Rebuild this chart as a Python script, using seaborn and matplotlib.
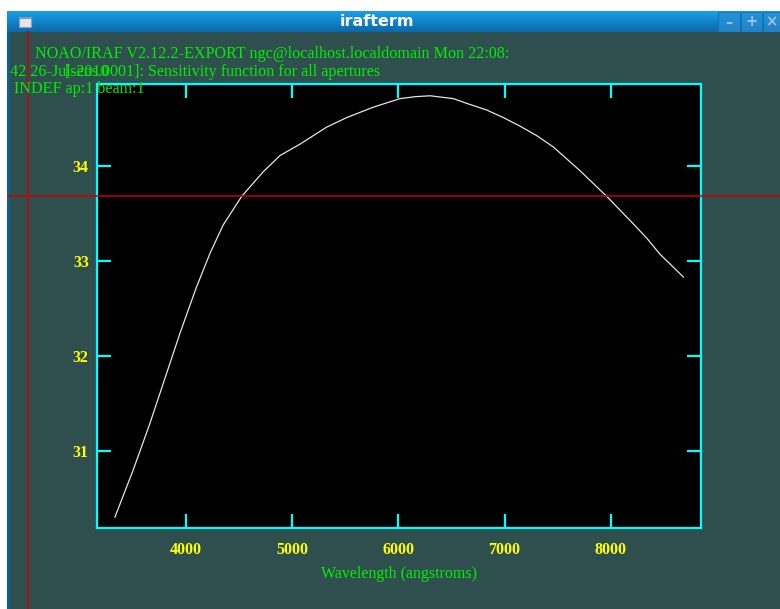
import numpy as np
import pandas as pd
import matplotlib
matplotlib.use("Agg")
import matplotlib.pyplot as plt
import seaborn as sns
from matplotlib.patches import Rectangle
from matplotlib.colors import LinearSegmentedColormap

# Sensitivity function (mag) against wavelength (angstroms)
wavelength = [3331, 3504, 3661, 3786, 3944, 4094, 4226, 4351, 4524, 4728,
              4885, 5073, 5325, 5513, 5764, 6015, 6156, 6298, 6517, 6643,
              6831, 6988, 7145, 7302, 7459, 7710, 7961, 8212, 8338, 8463, 8683]
sensitivity = [30.30, 30.80, 31.29, 31.71, 32.24, 32.71, 33.08, 33.38, 33.68, 33.94,
               34.11, 34.23, 34.41, 34.51, 34.62, 34.71, 34.73, 34.74, 34.71, 34.66,
               34.59, 34.51, 34.42, 34.32, 34.20, 33.95, 33.68, 33.39, 33.24, 33.07, 32.83]

x_ticks = [4000, 5000, 6000, 7000, 8000]
x_tick_labels = ["4000", "5000", "6000", "7000", "8000"]
y_ticks = [31, 32, 33, 34]
y_tick_labels = ["31", "32", "33", "34"]

# graphics cursor position (data units)
cursor_x = 2517
cursor_y = 33.68

header_1 = "NOAO/IRAF V2.12.2-EXPORT ngc@localhost.localdomain Mon 22:08:"
header_2a = "42 26-Jul-2010"
header_2b = "[sens.0001]: Sensitivity function for all apertures"
header_3 = "INDEF ap:1 beam:1"
x_label = "Wavelength (angstroms)"
window_title = "irafterm"

df = pd.DataFrame({"wavelength": wavelength, "sensitivity": sensitivity})

plt.rcParams["font.family"] = ["Liberation Serif", "DejaVu Serif"]

W, H = 780, 609
fig = plt.figure(figsize=(W / 100, H / 100), dpi=100, facecolor="white")


def fx(px):
    return px / W


def fy(py):
    return 1 - py / H


GREEN = "#00ee00"
YELLOW = "#ffff00"
CYAN = "#00ffff"
RED = "#c80000"
SLATE = "#2f4f4f"

# window frame and body (behind everything else)
fig.patches.append(Rectangle((fx(7), 0), 1 - fx(7), fy(11), transform=fig.transFigure,
                             facecolor="#0b5f94", edgecolor="none", zorder=-2))
fig.patches.append(Rectangle((fx(9.5), 0), 1 - fx(9.5), fy(32), transform=fig.transFigure,
                             facecolor=SLATE, edgecolor="none", zorder=-1))

# title bar
bar = fig.add_axes([fx(7), fy(32), 1 - fx(7), 21 / H])
grad = np.linspace(0, 1, 64).reshape(-1, 1)
bar_cmap = LinearSegmentedColormap.from_list("bar", ["#1a9ee9", "#0a69a8"])
bar.imshow(grad, aspect="auto", cmap=bar_cmap, extent=[7, 780, 32, 11], origin="upper")
bar.set_xlim(7, 780)
bar.set_ylim(32, 11)
bar.axis("off")
for x0, x1, sym in [(718, 740, "\u2013"), (741, 762, "+"), (763, 784, "\u00d7")]:
    bar.add_patch(Rectangle((x0, 11.5), x1 - x0, 20, facecolor="#2a8fd2",
                            edgecolor="#0d6fb0", linewidth=0.8, alpha=0.7))
    bar.text((x0 + x1) / 2 if x1 < 780 else 771.5, 22, sym, color="#9cc3e3",
             ha="center", va="center", fontsize=10.5, fontweight="bold", family="DejaVu Sans")
bar.add_patch(Rectangle((19, 16.5), 12, 10, facecolor="#e6e6ea", edgecolor="#8aa0b8", linewidth=0.8))
bar.add_patch(Rectangle((19, 16.5), 12, 2.5, facecolor="#7c9cc0", edgecolor="none"))
bar.text(376.5, 21.5, window_title, color="white", ha="center", va="center",
         fontsize=11.5, fontweight="bold", family="DejaVu Sans")

# plot area
left, right, top, bottom = 97, 701, 84, 528
ax = fig.add_axes([fx(left), fy(bottom), (right - left) / W, (bottom - top) / H])
ax.set_facecolor("black")

sns.lineplot(data=df, x="wavelength", y="sensitivity", ax=ax,
             color="#e6e6e6", linewidth=0.9, zorder=3)

ax.set_xlim(3162, 8849)
ax.set_ylim(30.185, 34.864)
ax.set_xticks(x_ticks, x_tick_labels, fontweight="bold")
ax.set_yticks(y_ticks, y_tick_labels, fontweight="bold")
for s in ax.spines.values():
    s.set_color(CYAN)
    s.set_linewidth(1.6)
ax.tick_params(direction="in", length=10, width=1.6, color=CYAN,
               top=True, right=True, labelcolor=YELLOW, labelsize=11.5)
ax.tick_params(axis="x", pad=10)
ax.tick_params(axis="y", pad=6)
ax.set_ylabel("")
ax.set_xlabel(x_label, color=GREEN, fontsize=11.5, labelpad=6)

# crosshair cursor
ax.axhline(cursor_y, xmin=(8 - left) / (right - left), xmax=1.3, clip_on=False,
           color=RED, linewidth=1.1, zorder=6)
ax.axvline(cursor_x, ymin=-0.3, ymax=(bottom - 32) / (bottom - top), clip_on=False,
           color=RED, linewidth=1.1, zorder=6)

# header lines
fs = 11.6
fig.text(fx(35), fy(58), header_1, color=GREEN, fontsize=fs, va="baseline", ha="left")
fig.text(fx(10), fy(76), header_2a, color=GREEN, fontsize=fs, va="baseline", ha="left")
fig.text(fx(65), fy(76), header_2b, color=GREEN, fontsize=fs, va="baseline", ha="left")
fig.text(fx(13.5), fy(93), header_3, color=GREEN, fontsize=fs, va="baseline", ha="left")

fig.savefig("out.png", dpi=100, facecolor=fig.get_facecolor())
